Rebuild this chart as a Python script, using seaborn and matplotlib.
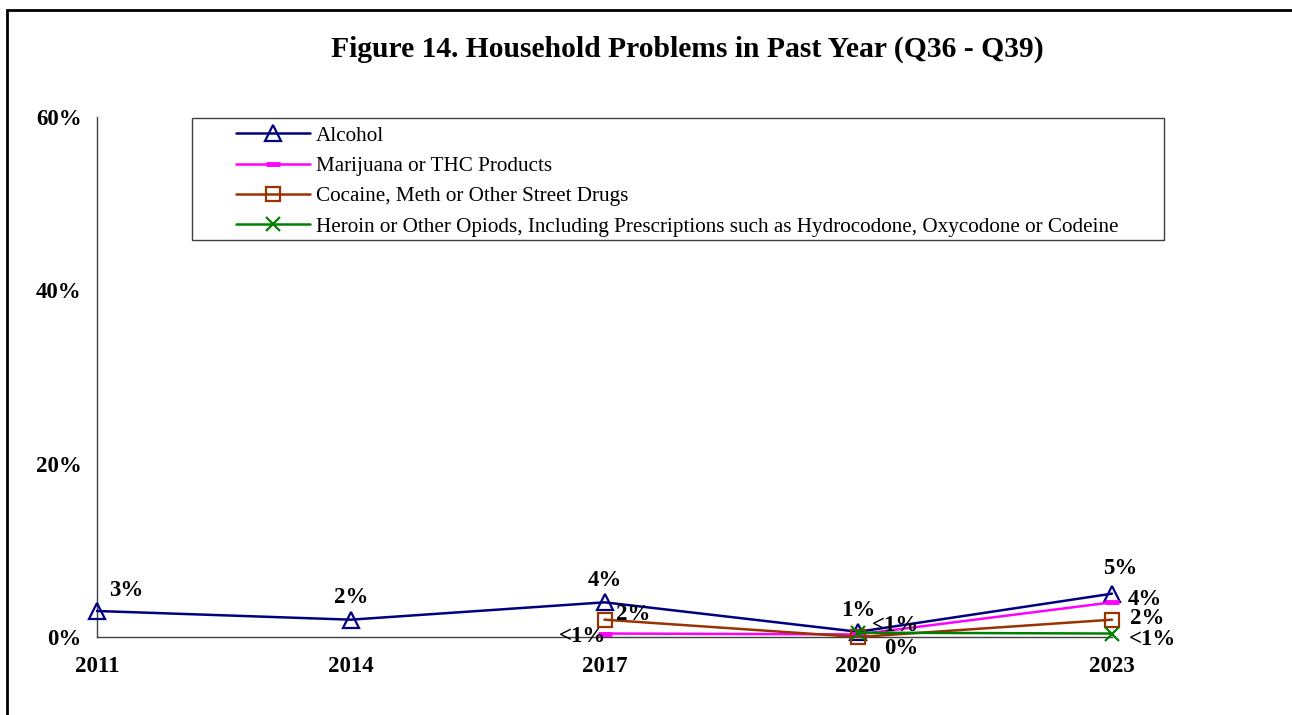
import numpy as np
import matplotlib
matplotlib.use("Agg")
import matplotlib.pyplot as plt
import matplotlib.patches as mpatches
import seaborn as sns

# Datos (porcentajes)
years = ["2011", "2014", "2017", "2020", "2023"]
series_names = [
    "Alcohol",
    "Marijuana or THC Products",
    "Cocaine, Meth or Other Street Drugs",
    "Heroin or Other Opiods, Including Prescriptions such as Hydrocodone, Oxycodone or Codeine",
]
alcohol = [3.0, 2.0, 4.0, 0.6, 5.0]
marijuana = [np.nan, np.nan, 0.4, 0.3, 4.0]
cocaine = [np.nan, np.nan, 2.0, 0.0, 2.0]
heroin = [np.nan, np.nan, np.nan, 0.5, 0.4]

alcohol_labels = ["3%", "2%", "4%", "1%", "5%"]
marijuana_labels = [None, None, "<1%", "<1%", "4%"]
cocaine_labels = [None, None, "2%", "0%", "2%"]
heroin_labels = [None, None, None, None, "<1%"]

yticks = [0, 20, 40, 60]
ytick_labels = ["0%", "20%", "40%", "60%"]

sns.set_style("white")
plt.rcParams["font.family"] = ["Liberation Serif", "DejaVu Serif"]
plt.rcParams["text.color"] = "black"
plt.rcParams["xtick.color"] = "black"
plt.rcParams["ytick.color"] = "black"

fig = plt.figure(figsize=(12.92, 7.15), dpi=100)
ax = fig.add_axes([97 / 1292, 1 - 637 / 715, 1015 / 1292, 520 / 715])

# estilo de cada serie y desplazamiento (px) de las etiquetas
styles = [
    dict(color="#000080", marker="^", ms=11, mew=1.6, mfc="none"),
    dict(color="#FF00FF", marker="_", ms=10, mew=3.5, mfc="none"),
    dict(color="#993300", marker="s", ms=10.5, mew=1.6, mfc="none"),
    dict(color="#008000", marker="x", ms=9.5, mew=1.6, mfc="none"),
]
offsets = [
    [(29, 21), (0, 22), (0, 22), (0, 21), (8, 25)],
    [None, None, (-22, -3), (37, 9), (33, 3)],
    [None, None, (29, 5), (43, -12), (35, 1)],
    [None, None, None, None, (41, -6)],
]

all_values = [alcohol, marijuana, cocaine, heroin]
all_labels = [alcohol_labels, marijuana_labels, cocaine_labels, heroin_labels]
xpos = np.arange(len(years))

for name, vals, labs, st, offs in zip(series_names, all_values, all_labels, styles, offsets):
    vals = np.array(vals, dtype=float)
    mask = ~np.isnan(vals)
    sns.lineplot(x=xpos[mask], y=vals[mask], ax=ax, label=name, color=st["color"],
                 marker=st["marker"], markersize=st["ms"], markeredgewidth=st["mew"],
                 markerfacecolor=st["mfc"], markeredgecolor=st["color"],
                 linewidth=1.8, clip_on=False, zorder=3)
    for i in range(len(years)):
        if labs[i] is None:
            continue
        ax.annotate(labs[i], (xpos[i], vals[i]), xytext=offs[i], textcoords="offset pixels",
                    ha="center", va="center", fontsize=16.5, fontweight="bold", color="black")

ax.set_xlim(0, len(years) - 1)
ax.set_ylim(0, 60)
ax.set_xticks(xpos)
ax.set_xticklabels(years, fontsize=16.5, fontweight="bold")
ax.set_yticks(yticks)
ax.set_yticklabels(ytick_labels, fontsize=16.5, fontweight="bold")
ax.tick_params(axis="both", direction="out", length=5, width=1, color="#404040", pad=6)
ax.tick_params(axis="x", length=4, pad=10)
ax.set_xlabel("")
ax.set_ylabel("")
for side in ["top", "right"]:
    ax.spines[side].set_visible(False)
for side in ["left", "bottom"]:
    ax.spines[side].set_color("#404040")
    ax.spines[side].set_linewidth(1)

leg = ax.legend(loc="upper left", bbox_to_anchor=(236 / 1292, 1 - 126 / 715),
                bbox_transform=fig.transFigure, frameon=False, fontsize=15.2,
                handlelength=3.5, handletextpad=0.3, labelspacing=0.5,
                borderpad=0, borderaxespad=0, numpoints=1)
for t in leg.get_texts():
    t.set_color("black")
fig.patches.append(mpatches.Rectangle((192 / 1292, 1 - 240 / 715), 972 / 1292, 122 / 715,
                                      transform=fig.transFigure, fill=False,
                                      edgecolor="#404040", linewidth=1, zorder=5))

fig.text(687 / 1292, 1 - 49 / 715, "Figure 14. Household Problems in Past Year (Q36 - Q39)",
         ha="center", va="center", fontsize=21.3, fontweight="bold", color="black")

# marco exterior
fig.patches.append(mpatches.Rectangle((7 / 1292, -0.1), 1.2, 1.1 - 10 / 715,
                                      transform=fig.transFigure, fill=False,
                                      edgecolor="black", linewidth=2))

fig.savefig("out.png", dpi=100)
